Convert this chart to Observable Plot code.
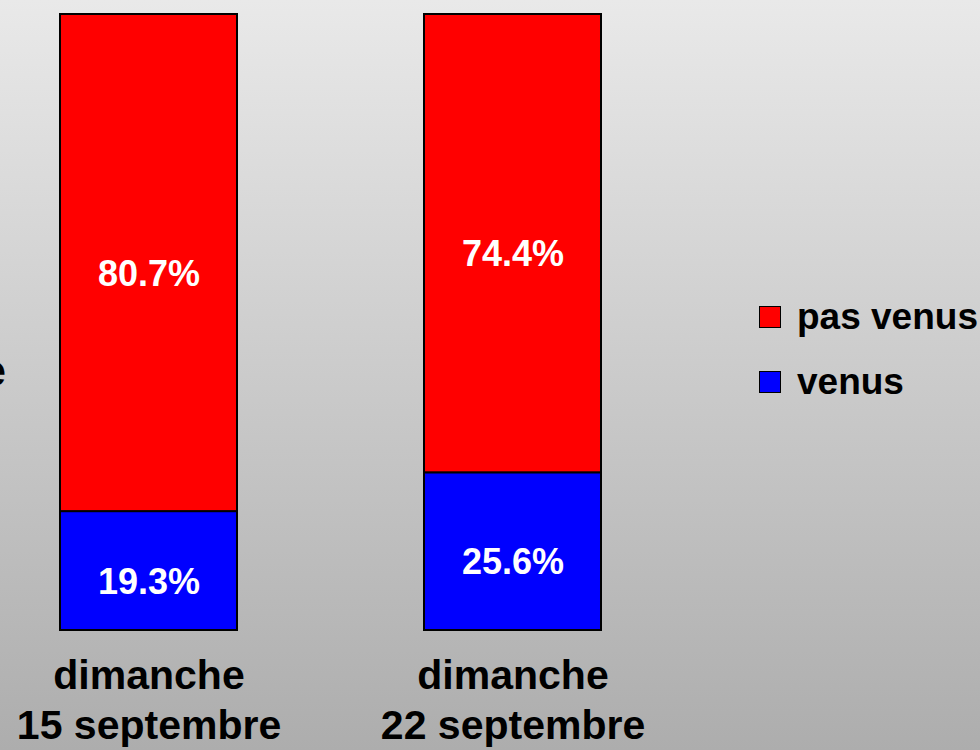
<!DOCTYPE html>
<html>
<head>
<meta charset="utf-8">
<script src="https://cdn.jsdelivr.net/npm/d3@7"></script>
<script src="https://cdn.jsdelivr.net/npm/@observablehq/plot@0.6"></script>
<style>
  html, body { margin: 0; padding: 0; }
  #wrap {
    position: relative; width: 980px; height: 750px; overflow: hidden;
    background: linear-gradient(to bottom, #e9e9e9 0%, #adadad 100%);
    font-family: "Liberation Sans", Arial, Helvetica, sans-serif; font-weight: bold;
  }
  #chart { position: absolute; left: 0; top: 0; }
  #legend { position: absolute; left: 759px; top: 305px; }
  .row { display: flex; align-items: center; height: 23px; margin-bottom: 42px; }
  .sw { width: 20px; height: 20px; border: 1.5px solid #000; box-sizing: content-box; }
  .lab { margin-left: 16px; font-size: 37px; color: #000; white-space: nowrap; line-height: 1; }
  #cut { position: absolute; right: 974px; top: 349px; font-size: 44px; line-height: 44px; color: #000; white-space: nowrap; }
</style>
</head>
<body>
<div id="wrap">
  <div id="chart"></div>
  <span id="cut">e</span>
  <div id="legend"></div>
</div>
<script>
// ---- data ----
const dates = ["dimanche\n15 septembre", "dimanche\n22 septembre"];
const seriesNames = ["venus", "pas venus"];
const venusValues = [19.3, 25.6];
const pasVenusValues = [80.7, 74.4];
const seriesColors = ["#0000ff", "#ff0000"];
const legendOrder = ["pas venus", "venus"];

const rows = [];
dates.forEach((d, i) => {
  rows.push({date: d, status: "venus", value: venusValues[i]});
  rows.push({date: d, status: "pas venus", value: pasVenusValues[i]});
});

const chart = Plot.plot({
  width: 980,
  height: 750,
  marginTop: 14,
  marginBottom: 120,
  marginLeft: 0,
  marginRight: 0,
  style: {background: "transparent", fontFamily: "'Liberation Sans', Arial, sans-serif", fontWeight: "bold"},
  x: {domain: dates, range: [59, 601], paddingInner: 0.515, paddingOuter: 0, label: null},
  y: {domain: [0, 100], axis: null},
  color: {domain: seriesNames, range: seriesColors},
  marks: [
    Plot.barY(rows, {x: "date", y: "value", fill: "status", stroke: "#000", strokeWidth: 2, inset: 0, order: seriesNames}),
    Plot.text(rows, Plot.stackY({x: "date", y: "value", z: "status", order: seriesNames,
      text: d => d.value.toFixed(1) + "%", fill: "#fff", fontSize: 36, fontWeight: "bold", dy: 11})),
    Plot.axisX({tickSize: 0, tickPadding: 24, fontSize: 41, fontWeight: "bold", lineHeight: 1.2, fill: "#000", label: null})
  ]
});
document.getElementById("chart").appendChild(chart);

const legend = document.getElementById("legend");
legendOrder.forEach(name => {
  const row = document.createElement("div");
  row.className = "row";
  const sw = document.createElement("div");
  sw.className = "sw";
  sw.style.background = seriesColors[seriesNames.indexOf(name)];
  const lab = document.createElement("span");
  lab.className = "lab";
  lab.textContent = name;
  row.appendChild(sw);
  row.appendChild(lab);
  legend.appendChild(row);
});
</script>
</body>
</html>
